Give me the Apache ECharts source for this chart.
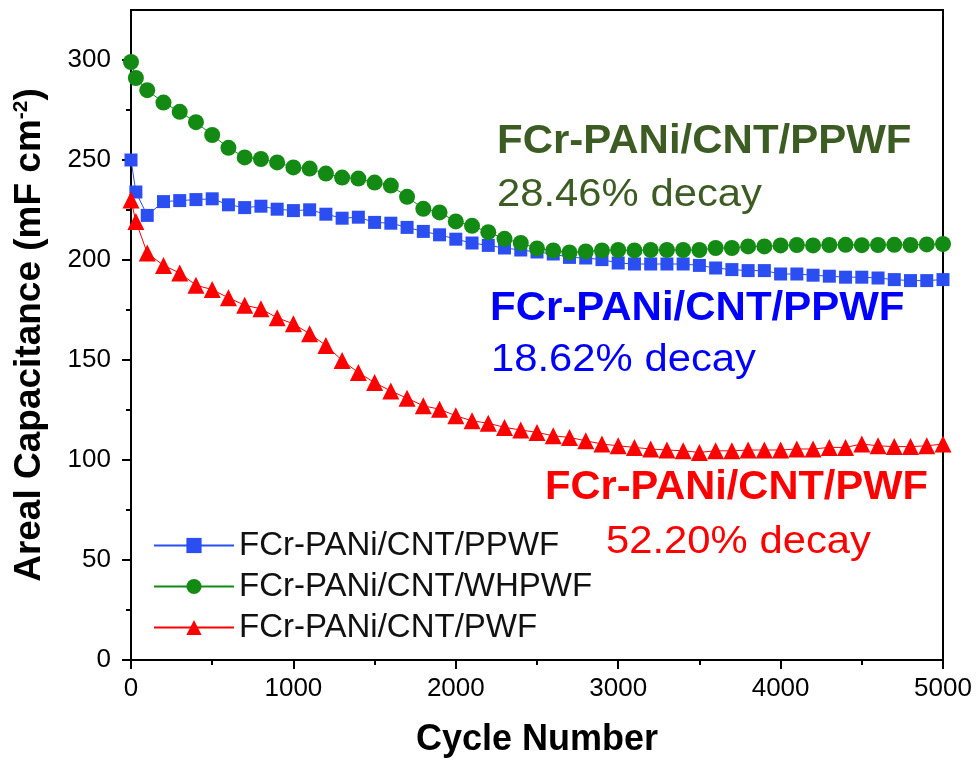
<!DOCTYPE html>
<html>
<head>
<meta charset="utf-8">
<script src="https://cdn.jsdelivr.net/npm/echarts@6/dist/echarts.min.js"></script>
<style>
  html, body { margin: 0; padding: 0; background: #fff; }
  #chart { width: 979px; height: 772px; }
</style>
</head>
<body>
<div id="chart"></div>
<script>
// cycle numbers of the measured points
var cycles = [0, 30, 100, 200, 300, 400, 500, 600, 700, 800, 900, 1000,
  1100, 1200, 1300, 1400, 1500, 1600, 1700, 1800, 1900, 2000,
  2100, 2200, 2300, 2400, 2500, 2600, 2700, 2800, 2900, 3000,
  3100, 3200, 3300, 3400, 3500, 3600, 3700, 3800, 3900, 4000,
  4100, 4200, 4300, 4400, 4500, 4600, 4700, 4800, 4900, 5000];

// areal capacitance, mF cm-2
var ppwf = [250, 234, 222.3, 229.2, 229.7, 230.2, 230.6, 227.6, 226.2, 226.9, 225.4, 224.7,
  225.1, 222.9, 220.9, 221.4, 218.8, 218.4, 216.3, 214.3, 212.6, 210.4,
  208.5, 207.3, 206, 205, 204, 203, 201.3, 201, 200.2, 198.5,
  198, 198, 198, 198, 197.3, 196, 195.2, 194.7, 194.7, 193,
  193, 192.4, 191.9, 191.4, 191.4, 191, 190.2, 189.7, 189.7, 190.2];

var whpwf = [299, 291, 284.9, 278.7, 274.1, 268.9, 262.5, 256.1, 251.3, 250.5, 248.8, 246.3,
  245.7, 243.2, 241.2, 240.7, 238.7, 237.2, 231.6, 225.6, 223.8, 219.3,
  217.1, 213.9, 210.6, 208.5, 205.8, 204.8, 203.8, 204.3, 204.8, 205,
  204.8, 205, 205, 205, 205, 206, 206, 206.8, 206.8, 207.3,
  207.5, 207.3, 207.5, 207.6, 207.4, 207.5, 207.6, 207.5, 207.8, 208];

var pwf = [230, 219.3, 203.5, 197.3, 193.5, 187.4, 185.2, 181.1, 177.4, 175.6, 171.1, 168.1,
  163.1, 157.3, 149.8, 143.7, 138.7, 134.5, 130.9, 127.1, 125.4, 122.1,
  119.6, 118.4, 116.3, 115, 113.8, 112.1, 111.3, 109.6, 108, 107.1,
  106.3, 105.5, 105, 104.6, 103.8, 104.6, 104.6, 105, 105, 105,
  105.5, 105.5, 106.3, 106.3, 108, 107.1, 106.7, 106.7, 107.1, 108];

var seriesNames = ['FCr-PANi/CNT/PPWF', 'FCr-PANi/CNT/WHPWF', 'FCr-PANi/CNT/PWF'];
var yMajor = [0, 50, 100, 150, 200, 250, 300];
var yMinor = [25, 75, 125, 175, 225, 275];

function pairs(ys) {
  var out = [];
  for (var i = 0; i < cycles.length; i++) {
    out.push([cycles[i], ys[i]]);
  }
  return out;
}

var font = 'Arial, "Liberation Sans", sans-serif';

var chart = echarts.init(document.getElementById('chart'));
var options = {
  animation: false,
  backgroundColor: '#fff',
  textStyle: { fontFamily: font },
  grid: {
    left: 131, right: 36, top: 10, bottom: 112,
    show: true, borderColor: '#000', borderWidth: 2
  },
  legend: {
    orient: 'vertical',
    left: 148, top: 524,
    itemWidth: 80, itemHeight: 19, itemGap: 8,
    textStyle: { fontSize: 33, color: '#111', fontFamily: font },
    data: seriesNames
  },
  xAxis: {
    type: 'value', min: 0, max: 5000, interval: 1000,
    name: 'Cycle Number', nameLocation: 'middle', nameGap: 62,
    nameTextStyle: { fontSize: 36, fontWeight: 'bold', color: '#000' },
    axisLine: { lineStyle: { color: '#000', width: 2 } },
    axisTick: { length: 9, lineStyle: { color: '#000', width: 2 } },
    minorTick: { show: true, splitNumber: 2, length: 5, lineStyle: { color: '#000', width: 2 } },
    axisLabel: { fontSize: 26, color: '#000', margin: 16, formatter: function (v) { return String(v); } },
    splitLine: { show: false }
  },
  yAxis: [{
    type: 'value', min: 0, max: 325,
    name: 'Areal Capacitance (mF cm{sup|-2})', nameLocation: 'middle', nameGap: 82,
    nameTextStyle: {
      fontSize: 37, fontWeight: 'bold', color: '#000',
      rich: { sup: { fontSize: 21, fontWeight: 'bold', color: '#000', padding: [0, 0, 17, 0] } }
    },
    axisLine: { lineStyle: { color: '#000', width: 2 } },
    axisTick: { length: 9, customValues: yMajor, lineStyle: { color: '#000', width: 2 } },
    axisLabel: { fontSize: 26, color: '#000', margin: 20, customValues: yMajor },
    splitLine: { show: false }
  }, {
    type: 'value', min: 0, max: 325, position: 'left',
    axisLine: { show: false },
    axisTick: { show: true, length: 5, customValues: yMinor, lineStyle: { color: '#000', width: 2 } },
    axisLabel: { show: false },
    splitLine: { show: false }
  }],
  series: [{
    name: seriesNames[0], type: 'line', data: pairs(ppwf),
    symbol: 'rect', symbolSize: 13,
    itemStyle: { color: '#2b4ef2' },
    lineStyle: { color: '#2b4ef2', width: 1 }
  }, {
    name: seriesNames[1], type: 'line', data: pairs(whpwf),
    symbol: 'circle', symbolSize: 16,
    itemStyle: { color: '#138a13' },
    lineStyle: { color: '#138a13', width: 1 }
  }, {
    name: seriesNames[2], type: 'line', data: pairs(pwf),
    symbol: 'triangle', symbolSize: 17,
    itemStyle: { color: '#ff0000' },
    lineStyle: { color: '#ff0000', width: 1 }
  }],
  graphic: [
    { type: 'text', x: 497, y: 162, scaleX: 1.05,
      style: { text: 'FCr-PANi/CNT/PPWF', font: 'bold 40px ' + font, fill: '#3d5c23', textVerticalAlign: 'bottom' } },
    { type: 'text', x: 497, y: 215, scaleX: 1.1,
      style: { text: '28.46% decay', font: '38px ' + font, fill: '#3d5c23', textVerticalAlign: 'bottom' } },
    { type: 'text', x: 490, y: 329, scaleX: 1.05,
      style: { text: 'FCr-PANi/CNT/PPWF', font: 'bold 40px ' + font, fill: '#0000ff', textVerticalAlign: 'bottom' } },
    { type: 'text', x: 491, y: 380, scaleX: 1.1,
      style: { text: '18.62% decay', font: '38px ' + font, fill: '#0000ff', textVerticalAlign: 'bottom' } },
    { type: 'text', x: 545, y: 508, scaleX: 1.04,
      style: { text: 'FCr-PANi/CNT/PWF', font: 'bold 40px ' + font, fill: '#ff0000', textVerticalAlign: 'bottom' } },
    { type: 'text', x: 606, y: 562, scaleX: 1.1,
      style: { text: '52.20% decay', font: '38px ' + font, fill: '#ff0000', textVerticalAlign: 'bottom' } }
  ]
};
chart.setOption(options);
</script>
</body>
</html>
